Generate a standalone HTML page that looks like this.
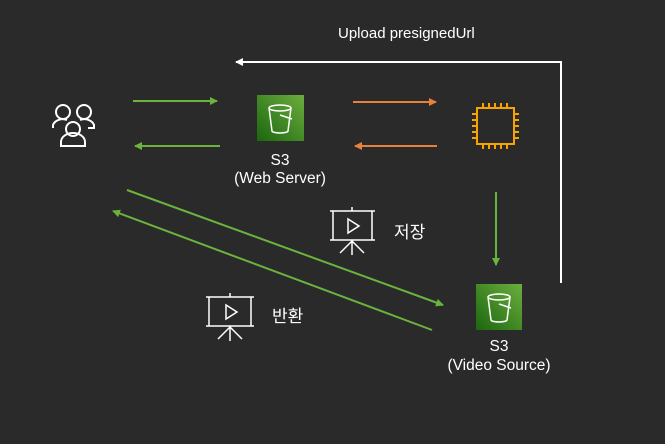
<!DOCTYPE html>
<html><head><style>
html,body{margin:0;padding:0;background:#2a2a2a;width:665px;height:444px;overflow:hidden}
text{font-family:"Liberation Sans","Noto Sans CJK KR",sans-serif;fill:#fff}
</style></head><body>
<svg width="665" height="444" viewBox="0 0 665 444" xmlns="http://www.w3.org/2000/svg">
<defs>
<marker id="g" markerWidth="8" markerHeight="8" refX="7" refY="4" orient="auto" markerUnits="userSpaceOnUse"><path d="M0,0L8,4L0,8z" fill="#6ab43e"/></marker>
<marker id="o" markerWidth="8" markerHeight="8" refX="7" refY="4" orient="auto" markerUnits="userSpaceOnUse"><path d="M0,0L8,4L0,8z" fill="#e8813a"/></marker>
<marker id="w" markerWidth="8" markerHeight="8" refX="7" refY="4" orient="auto" markerUnits="userSpaceOnUse"><path d="M0,0L8,4L0,8z" fill="#fff"/></marker>
<linearGradient id="s3" x1="0" y1="1" x2="1" y2="0"><stop offset="0" stop-color="#1b660f"/><stop offset="1" stop-color="#6cae3e"/></linearGradient>
</defs>
<text x="338" y="38" font-size="15">Upload presignedUrl</text>
<polyline points="561,283 561,62 236,62" fill="none" stroke="#fff" stroke-width="2" marker-end="url(#w)"/>
<g stroke="#6ab43e" stroke-width="2" fill="none">
<line x1="133" y1="101" x2="217" y2="101" marker-end="url(#g)"/>
<line x1="220" y1="146" x2="135" y2="146" marker-end="url(#g)"/>
<line x1="496" y1="192" x2="496" y2="265" marker-end="url(#g)"/>
<line x1="127" y1="190" x2="443" y2="305" marker-end="url(#g)"/>
<line x1="432" y1="330" x2="113" y2="211" marker-end="url(#g)"/>
</g>
<g stroke="#e8813a" stroke-width="2" fill="none">
<line x1="353" y1="102" x2="436" y2="102" marker-end="url(#o)"/>
<line x1="437" y1="146" x2="355" y2="146" marker-end="url(#o)"/>
</g>
<!-- people -->
<g stroke="#fff" stroke-width="2" fill="none">
<circle cx="63" cy="112" r="7"/><path d="M53,128v-3a10,8 0 0 1 14,-5"/>
<circle cx="84" cy="112" r="7"/><path d="M80,120a10,8 0 0 1 14,5v3h-6"/>
<circle cx="73" cy="129" r="7"/><path d="M61,146v-4a12,9 0 0 1 24,0v4z"/>
</g>
<!-- S3 icons -->
<g>
<rect x="257" y="95" width="47" height="46" fill="url(#s3)"/>
<g stroke="#fff" stroke-width="1.5" fill="none"><ellipse cx="280" cy="108" rx="11" ry="3"/><path d="M269,108l3,23a8,2 0 0 0 16,0l3-23"/><path d="M280,115l12,4"/></g>
<rect x="476" y="284" width="46" height="46" fill="url(#s3)"/>
<g stroke="#fff" stroke-width="1.5" fill="none"><ellipse cx="499" cy="297" rx="11" ry="3"/><path d="M488,297l3,23a8,2 0 0 0 16,0l3-23"/><path d="M499,304l12,4"/></g>
</g>
<text x="280" y="165" font-size="15.5" text-anchor="middle">S3</text>
<text x="280" y="183" font-size="15.5" text-anchor="middle">(Web Server)</text>
<text x="499" y="351" font-size="15.5" text-anchor="middle">S3</text>
<text x="499" y="370" font-size="15.5" text-anchor="middle">(Video Source)</text>
<!-- chip -->
<g stroke="#f7a400" stroke-width="2" fill="none">
<rect x="477" y="108" width="37" height="36"/>
<path d="M483,108v-5M489,108v-5M495,108v-5M501,108v-5M507,108v-5M483,144v5M489,144v5M495,144v5M501,144v5M507,144v5M477,114h-5M477,120h-5M477,126h-5M477,132h-5M477,138h-5M514,114h5M514,120h5M514,126h5M514,132h5M514,138h5"/>
</g>
<!-- presentation icons -->
<g stroke="#fff" stroke-width="1.5" fill="none">
<path d="M330,211h45M333,211v29M372,211v29M330,240h45M352,207v4M352,240v15M352,241l-12,12M352,241l12,12"/>
<path d="M348,219v14l11-7z"/>
<path d="M206,297h48M209,297v29M251,297v29M206,326h48M230,293v4M230,326v15M230,327l-12,12M230,327l12,12"/>
<path d="M226,305v14l11-7z"/>
</g>
<text x="394" y="238" font-size="17">저장</text>
<text x="272" y="322" font-size="17">반환</text>
</svg>
</body></html>
